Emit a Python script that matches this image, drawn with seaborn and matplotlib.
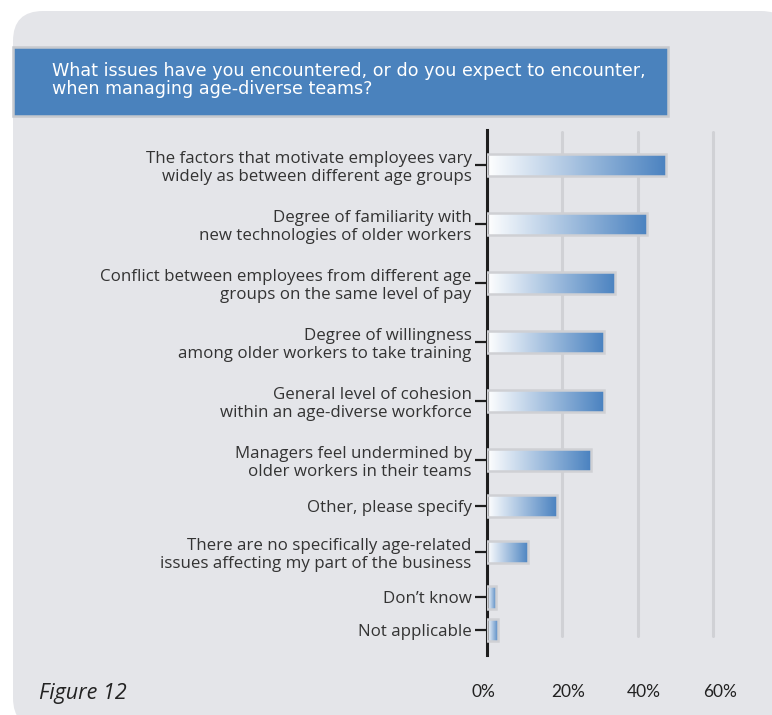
import numpy as np
import pandas as pd
import matplotlib
matplotlib.use("Agg")
import matplotlib.pyplot as plt
import matplotlib.transforms as mtransforms
from matplotlib.patches import FancyBboxPatch
from matplotlib.colors import LinearSegmentedColormap
import seaborn as sns

# Survey answers (share of respondents, %)
issues = [
    "The factors that motivate employees vary\nwidely as between different age groups",
    "Degree of familiarity with\nnew technologies of older workers",
    "Conflict between employees from different age\ngroups on the same level of pay",
    "Degree of willingness\namong older workers to take training",
    "General level of cohesion\nwithin an age-diverse workforce",
    "Managers feel undermined by\nolder workers in their teams",
    "Other, please specify",
    "There are no specifically age-related\nissues affecting my part of the business",
    "Don\u2019t know",
    "Not applicable",
]
share = [47.5, 42.5, 34, 31, 31, 27.5, 18.5, 11, 2.5, 3]
x_ticks = [0, 20, 40, 60]
x_tick_labels = ["0%", "20%", "40%", "60%"]
title = ("What issues have you encountered, or do you expect to encounter,\n"
         "when managing age-diverse teams?")
figure_label = "Figure 12"

PANEL = "#e4e5e9"
BLUE = "#4a82bd"
BAR_BLUE = "#4a82c0"
GRID = "#d0d1d5"
INK = "#1e1e1e"
LABEL = "#333333"

W, H = 772, 715
sns.set_theme(style="white")
plt.rcParams["font.family"] = ["Open Sans", "DejaVu Sans"]

fig = plt.figure(figsize=(W / 100, H / 100), dpi=100, facecolor="white")
px = mtransforms.IdentityTransform()

# rounded grey panel and the blue question banner
panel = FancyBboxPatch((13, H - 728), 778, 717,
                       boxstyle="round,pad=0,rounding_size=30",
                       facecolor=PANEL, edgecolor="none",
                       transform=px, zorder=-3)
fig.add_artist(panel)
banner = FancyBboxPatch((13, H - 116), 655, 69, boxstyle="square,pad=0",
                        facecolor=BLUE, edgecolor="#c6c9ce", linewidth=1.8,
                        transform=px, zorder=-2)
fig.add_artist(banner)
# baseline alignment of a two-line text refers to its last line
fig.text(52 / W, 1 - 93.5 / H, title, color="white", fontsize=12.6,
         family=["DejaVu Sans"], va="baseline", ha="left", linespacing=1.0)
fig.text(39 / W, 1 - 699 / H, figure_label, color="#222222", fontsize=15.5,
         fontstyle="italic", family=["Open Sans", "DejaVu Sans"],
         va="baseline", ha="left")

# vertical slot per answer: two-line answers take a full slot, single-line ones less
slot = [1.0 if "\n" in s else 0.55 for s in issues]
pos = [0.0]
for a, b in zip(slot[:-1], slot[1:]):
    pos.append(pos[-1] + (a + b) / 2)

df = pd.DataFrame({"issue": issues, "share": share, "pos": pos})

left_px, right_px = 487, 487 + 65 * 3.77
top_px, bottom_px = 130, 655
ax = fig.add_axes([left_px / W, 1 - bottom_px / H,
                   (right_px - left_px) / W, (bottom_px - top_px) / H])
ax.patch.set_alpha(0)

sns.barplot(data=df, x="share", y="pos", orient="h", native_scale=True,
            width=0.68, errorbar=None, color=BAR_BLUE, edgecolor="#cfd0d4",
            linewidth=1.8, ax=ax, zorder=3)

# white-to-blue gradient inside each bar
cmap = LinearSegmentedColormap.from_list("bar_fade", ["#ffffff", BAR_BLUE])
grad = np.linspace(0, 1, 256).reshape(1, -1)
for bar in list(ax.patches):
    x0, y0 = bar.get_x(), bar.get_y()
    w, h = bar.get_width(), bar.get_height()
    im = ax.imshow(grad, cmap=cmap, aspect="auto", interpolation="bilinear",
                   extent=[x0, x0 + w, y0 + h, y0], zorder=2)
    im.set_clip_path(bar)
    bar.set_facecolor("none")

ax.set_xlim(0, 65)
ax.set_ylim(pos[-1] + 0.424, pos[0] - 0.593)

for xv in x_ticks[1:]:
    ax.axvline(xv, ymin=0.036, ymax=0.996, color=GRID, lw=2.2, zorder=0)

ax.set_yticks(pos)
ax.set_yticklabels(issues, fontsize=12.2, color=LABEL, linespacing=1.15,
                   family=["Open Sans", "DejaVu Sans"])
ax.set_xticks(x_ticks)
ax.set_xticklabels(x_tick_labels, fontsize=12.5, color="#222222",
                   family=["Lato", "DejaVu Sans"])
ax.tick_params(axis="y", length=9, width=1.6, color=INK, pad=2, left=True)
ax.tick_params(axis="x", length=0, pad=21)

# percentage labels sit a little right of their gridlines
label_nudge = [-4, 6, 6, 7]
for lab, dx in zip(ax.get_xticklabels(), label_nudge):
    lab.set_transform(lab.get_transform() +
                      mtransforms.ScaledTranslation(dx / 100, 0, fig.dpi_scale_trans))

ax.set_xlabel("")
ax.set_ylabel("")
ax.grid(False)
for side in ["top", "right", "bottom"]:
    ax.spines[side].set_visible(False)
ax.spines["left"].set_color(INK)
ax.spines["left"].set_linewidth(2.2)

fig.savefig("out.png", dpi=100, facecolor="white")
